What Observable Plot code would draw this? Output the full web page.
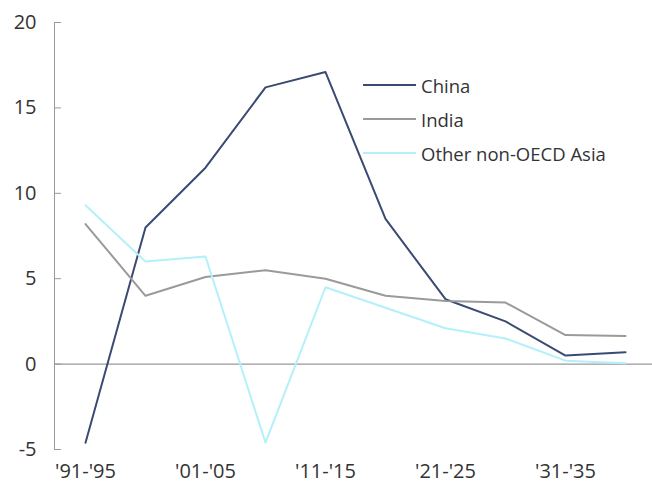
<!DOCTYPE html>
<html>
<head>
<meta charset="utf-8">
<script src="https://cdn.jsdelivr.net/npm/d3@7"></script>
<script src="https://cdn.jsdelivr.net/npm/@observablehq/plot@0.6"></script>
<style>
  html, body { margin: 0; padding: 0; background: #fff; }
  #wrap { position: relative; width: 652px; height: 486px; font-family: "Open Sans", Lato, sans-serif; }
  #legend { position: absolute; left: 363px; top: 68px; font-size: 18.5px; color: #333; }
  #legend .item { display: flex; align-items: center; height: 34px; }
  #legend .sw { width: 53px; height: 0; border-top: 2px solid; margin-right: 5px; }
</style>
</head>
<body>
<div id="wrap"></div>
<script>
const categories = ["'91-'95","'96-'00","'01-'05","'06-'10","'11-'15","'16-'20","'21-'25","'26-'30","'31-'35","'36-'40"];
const tickLabels = ["'91-'95","'01-'05","'11-'15","'21-'25","'31-'35"];
const china = [-4.6, 8.0, 11.5, 16.2, 17.1, 8.5, 3.8, 2.5, 0.5, 0.7];
const india = [8.2, 4.0, 5.1, 5.5, 5.0, 4.0, 3.7, 3.6, 1.7, 1.65];
const other = [9.3, 6.0, 6.3, -4.6, 4.5, 3.3, 2.1, 1.5, 0.2, 0.05];
const seriesNames = ["China", "India", "Other non-OECD Asia"];
const colors = ["#3b4a73", "#9a9a9a", "#b3f0fa"];
const yTicks = [-5, 0, 5, 10, 15, 20];

const seriesValues = [china, india, other];
const data = [];
seriesNames.forEach((s, si) => seriesValues[si].forEach((v, i) => data.push({series: s, i, cat: categories[i], value: v})));

const xMin = -31/60, xMax = 9 + 27/60;
const tickIdx = tickLabels.map(l => categories.indexOf(l));

const chart = Plot.plot({
  width: 652,
  height: 486,
  marginLeft: 54,
  marginRight: 0,
  marginTop: 22,
  marginBottom: 37,
  style: {fontFamily: "'Open Sans', Lato, sans-serif", background: "#fff"},
  x: {type: "linear", domain: [xMin, xMax], axis: null},
  y: {domain: [-5, 20], axis: null},
  color: {domain: seriesNames, range: colors},
  marks: [
    Plot.ruleX([xMin], {y1: -5, y2: 20, stroke: "#999", strokeWidth: 1}),
    Plot.ruleY(yTicks, {x1: xMin, x2: xMin + 7/60, stroke: "#999", strokeWidth: 1}),
    Plot.ruleY([0], {stroke: "#999", strokeWidth: 1.2}),
    Plot.text(yTicks, {x: xMin, y: d => d, text: d => String(d), textAnchor: "end", dx: -18, fontSize: 20, fill: "#333"}),
    Plot.text(tickIdx, {x: d => d, y: -5, text: d => categories[d], dy: 22, fontSize: 20, fill: "#333"}),
    Plot.line(data, {x: "i", y: "value", z: "series", stroke: "series", strokeWidth: 2})
  ]
});

const wrap = document.getElementById("wrap");
wrap.appendChild(chart);
const legend = document.createElement("div");
legend.id = "legend";
seriesNames.forEach((s, i) => {
  const item = document.createElement("div");
  item.className = "item";
  const sw = document.createElement("span");
  sw.className = "sw";
  sw.style.borderColor = colors[i];
  const t = document.createElement("span");
  t.textContent = s;
  item.appendChild(sw); item.appendChild(t);
  legend.appendChild(item);
});
wrap.appendChild(legend);
</script>
</body>
</html>
